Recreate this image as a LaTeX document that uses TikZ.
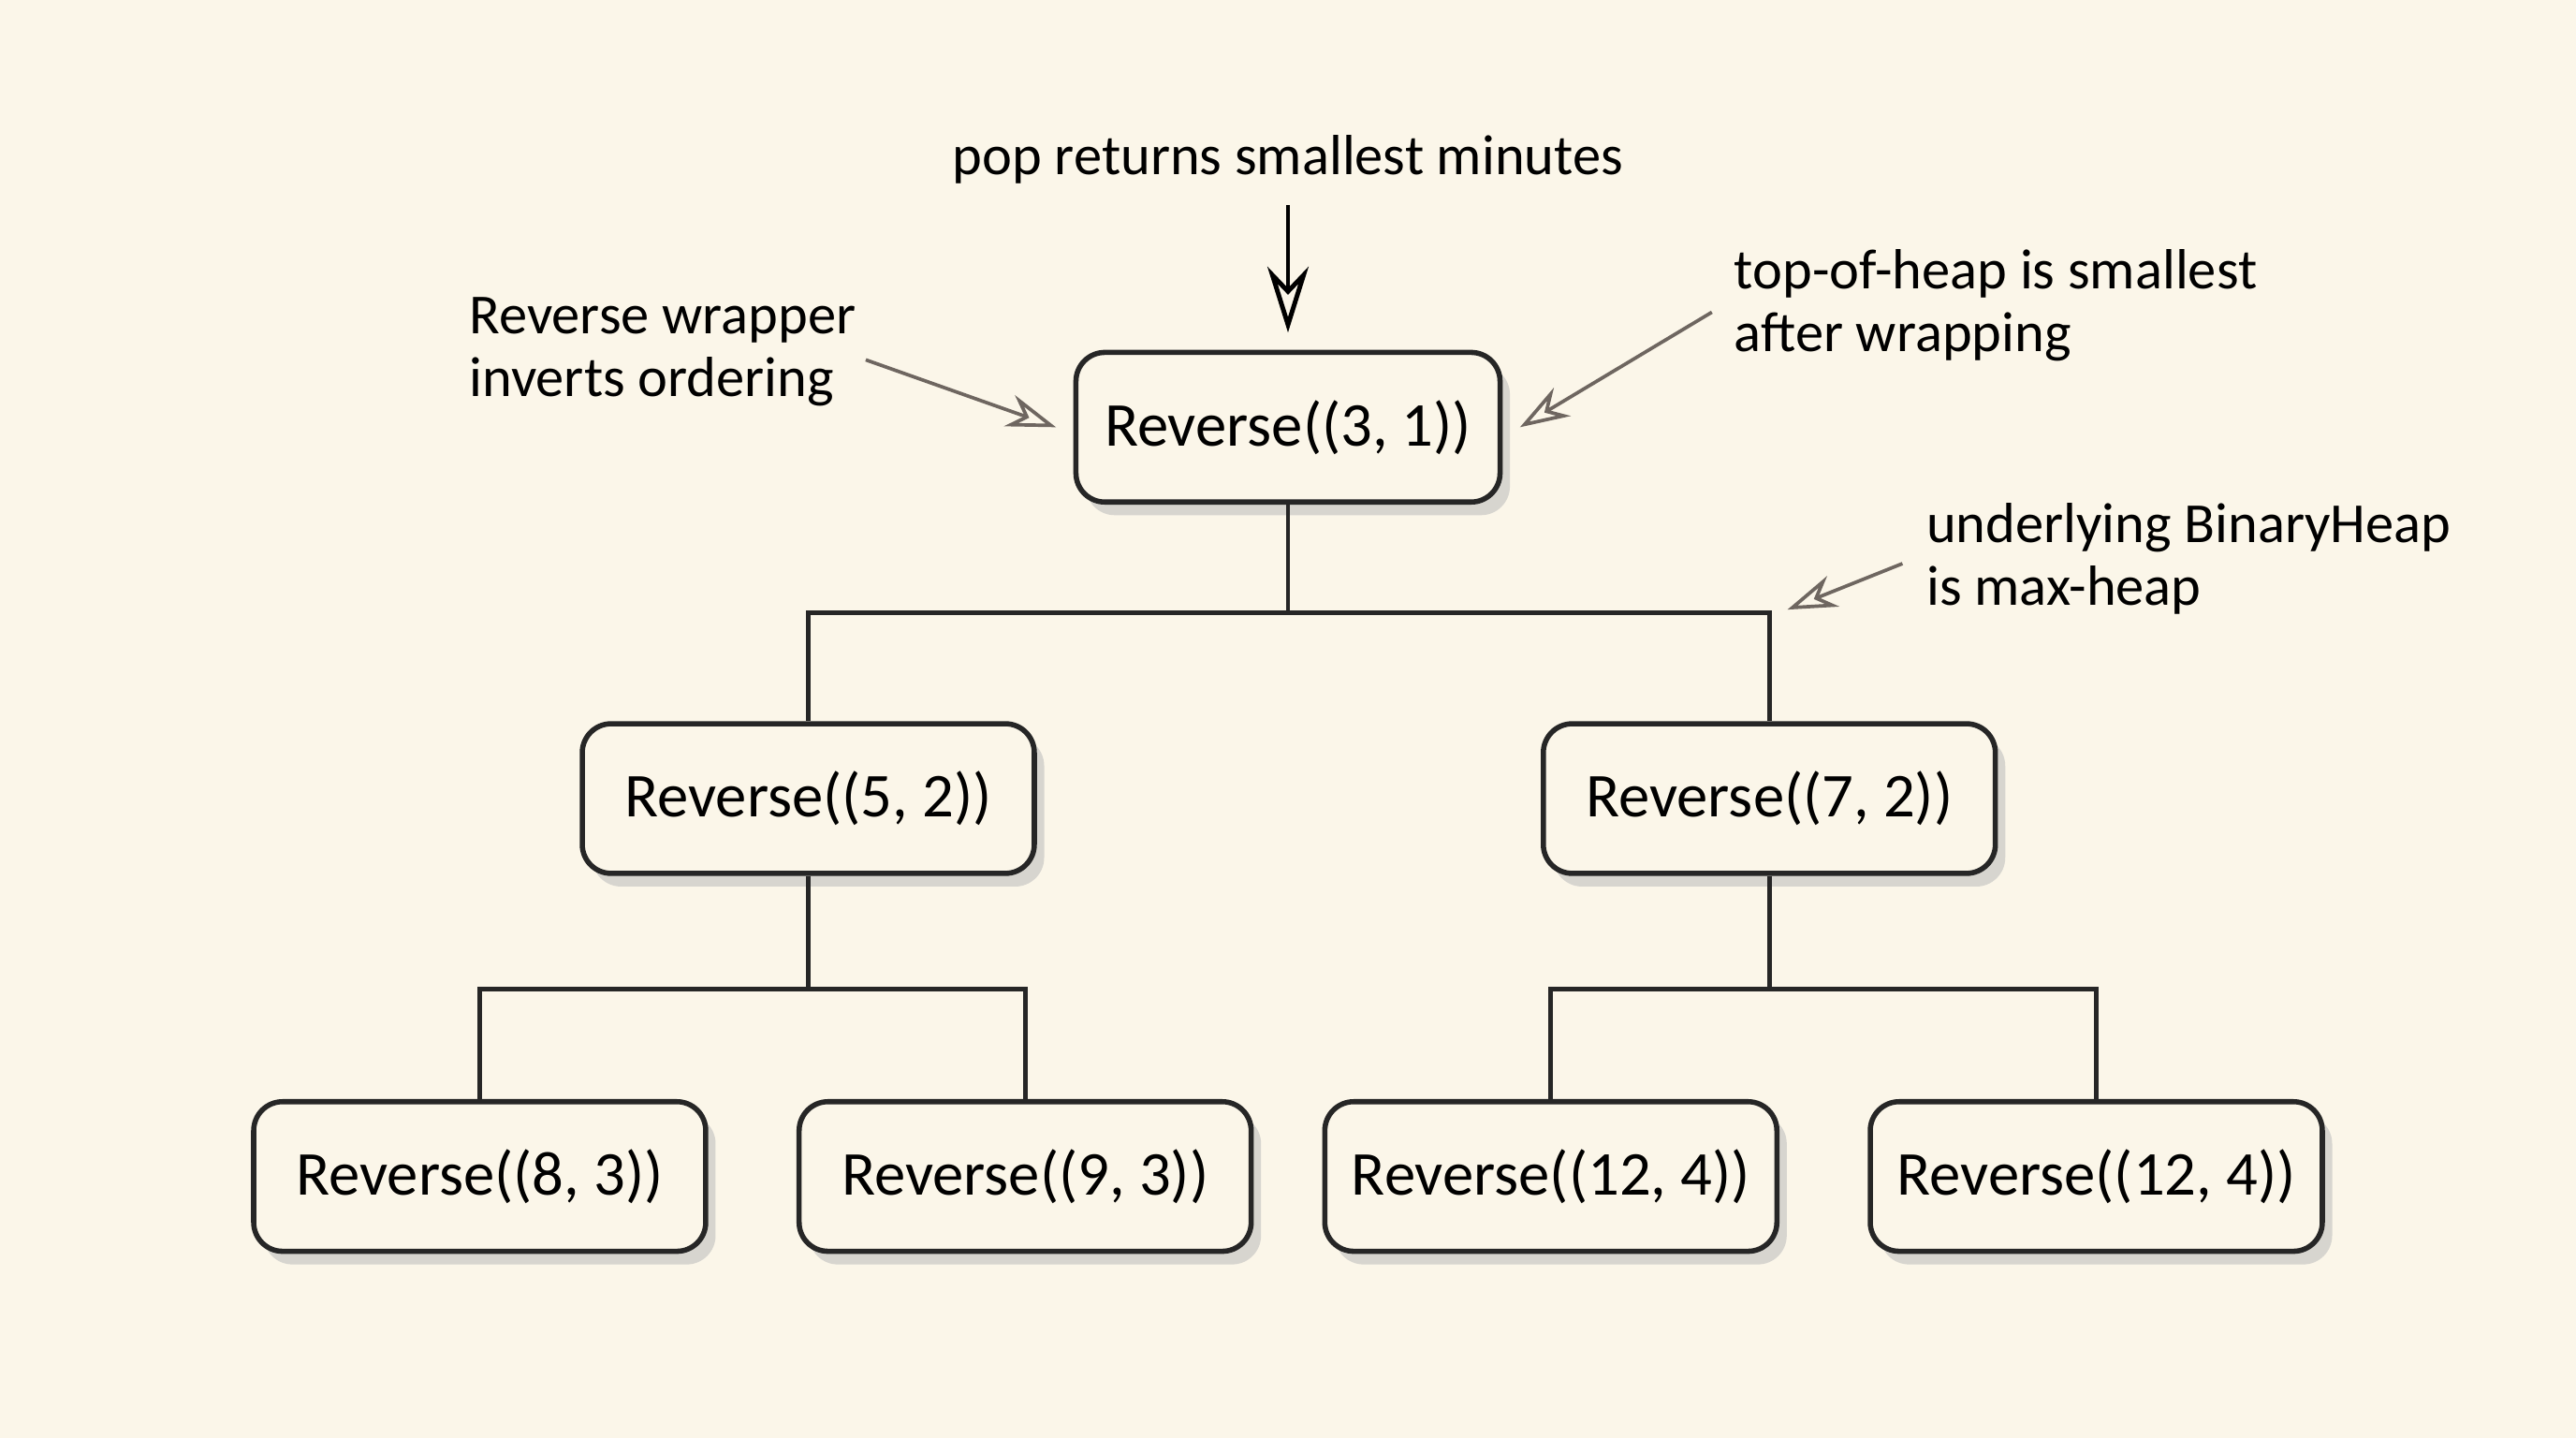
\documentclass[tikz,border=0pt]{standalone}
\usepackage{fontspec}
\setmainfont{Carlito}
\usepackage{xcolor}
\usetikzlibrary{arrows.meta, positioning, shadows}
\definecolor{paper}{HTML}{FBF6E9}
\definecolor{note}{HTML}{6E6660}
\tikzstyle{heapnode} = [rectangle, rounded corners=5pt, draw=black!85, line width=0.9pt, fill=paper, minimum height=0.91cm, minimum width=2.75cm, font=\fontsize{10.8}{13}\selectfont, drop shadow={shadow xshift=0.6mm, shadow yshift=-0.8mm, fill=black!25, opacity=0.6}]
\tikzstyle{notes} = [align=left, anchor=west, font=\fontsize{9.8}{10.8}\selectfont, inner sep=0pt]
\tikzstyle{link} = [line width=0.8pt, black!85]
\tikzstyle{notearrow} = [line width=0.6pt, note, -{Stealth[length=3mm, width=2mm, open]}]

\begin{document}
\begin{tikzpicture}[x=0.01cm, y=-0.01cm]
    \fill[paper] (0,0) rectangle (1568,875);
    \useasboundingbox (0,0) rectangle (1568,875);

            % Nodes
            \node (root) [heapnode, minimum width=2.58cm] at (784,260) {Reverse((3, 1))};
            \node (left) [heapnode] at (492,486) {Reverse((5, 2))};
            \node (right) [heapnode] at (1077,486) {Reverse((7, 2))};
            \node (ll) [heapnode] at (292,716) {Reverse((8, 3))};
            \node (lr) [heapnode] at (624,716) {Reverse((9, 3))};
            \node (rl) [heapnode] at (944,716) {Reverse((12, 4))};
            \node (rr) [heapnode] at (1276,716) {Reverse((12, 4))};

            % Notes
            \node (pop) [font=\fontsize{9.8}{10.8}\selectfont] at (784,97) {pop returns smallest minutes};
            \node (wrap) [notes] at (285,214) {Reverse wrapper\\inverts ordering};
            \node (top) [notes] at (1055,186) {top-of-heap is smallest\\after wrapping};
            \node (under) [notes] at (1172,340) {underlying BinaryHeap\\is max-heap};
            \coordinate (popend) at (784,125);
            \coordinate (wrapend) at (527,219);
            \coordinate (topend) at (1042,190);
            \coordinate (underend) at (1158,343);
            \coordinate (bar) at (1088,371);

            % Links
            \draw [link] (root.south) -- ++(0,66) -| (left.north);
            \draw [link] (root.south) -- ++(0,66) -| (right.north);
            \draw [link] (left.south) -- ++(0,69) -| (ll.north);
            \draw [link] (left.south) -- ++(0,69) -| (lr.north);
            \draw [link] (right.south) -- ++(0,69) -| (rl.north);
            \draw [link] (right.south) -- ++(0,69) -| (rr.north);

            % Arrows
            \draw [line width=0.8pt, -{Stealth[length=4mm, width=2.5mm, open]}] (popend) -- ([yshift=3pt]root.north);
            \draw [notearrow] (wrapend) -- ([xshift=-3pt]root.west);
            \draw [notearrow] (topend) -- ([xshift=3pt]root.east);
            \draw [notearrow] (underend) -- (bar);

        \end{tikzpicture}
\end{document}
